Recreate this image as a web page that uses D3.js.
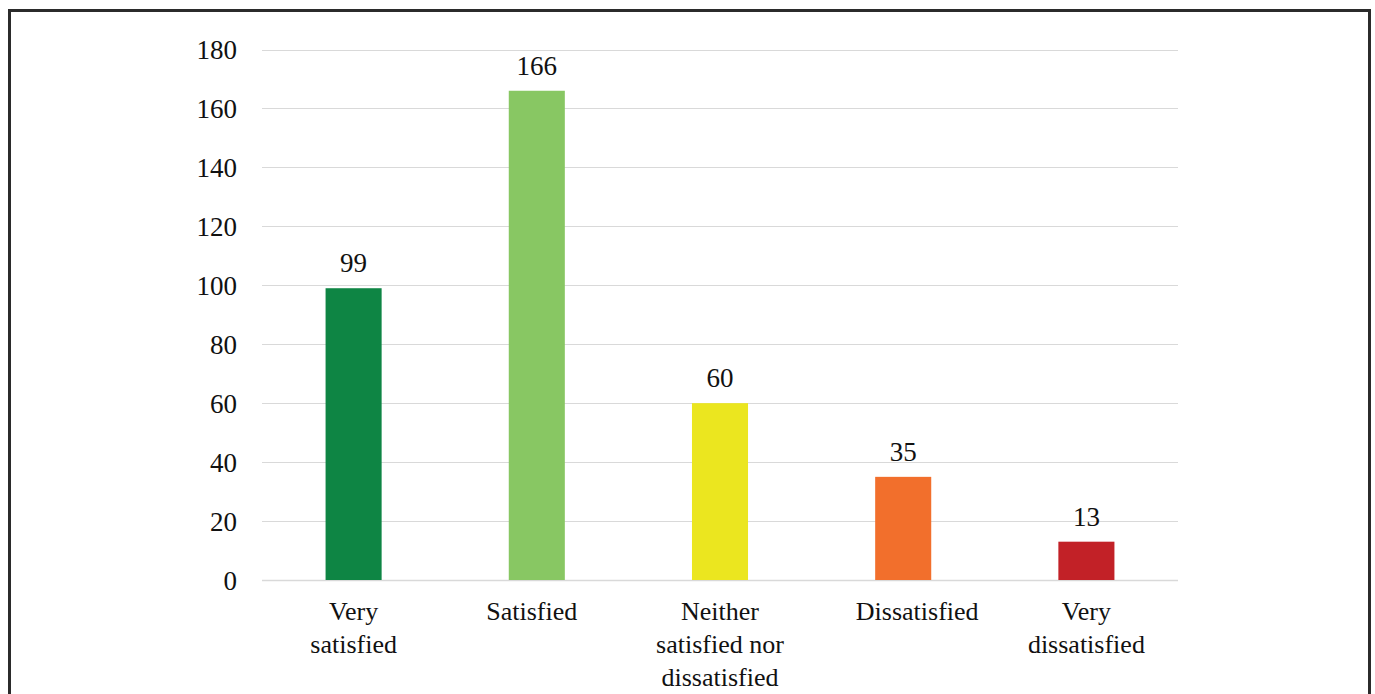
<!DOCTYPE html>
<html>
<head>
<meta charset="utf-8">
<script src="https://cdn.jsdelivr.net/npm/d3@7"></script>
<style>
  html, body { margin: 0; padding: 0; background: #fff; }
  svg { display: block; }
  text { font-family: "Liberation Serif", "Times New Roman", serif; fill: #111; }
</style>
</head>
<body>
<svg id="chart" width="1375" height="694"></svg>
<script>
// Survey responses: satisfaction level and number of respondents
const categories = ["Very satisfied", "Satisfied", "Neither satisfied nor dissatisfied", "Dissatisfied", "Very dissatisfied"];
const categoryLines = [["Very", "satisfied"], ["Satisfied"], ["Neither", "satisfied nor", "dissatisfied"], ["Dissatisfied"], ["Very", "dissatisfied"]];
const counts = [99, 166, 60, 35, 13];
const barColors = ["#0e8544", "#88c763", "#ebe61f", "#f26f2c", "#c22127"];
const yTicks = [0, 20, 40, 60, 80, 100, 120, 140, 160, 180];

const svg = d3.select("#chart");
const W = 1375, H = 694;

// Frame around the chart (open at the bottom edge)
svg.append("path")
  .attr("d", `M9.5,${H} V10.5 H1369.5 V${H}`)
  .attr("fill", "none")
  .attr("stroke", "#2b2b2b")
  .attr("stroke-width", 3);

const plot = { left: 262, right: 1178, top: 49.5, bottom: 580 };

const x = d3.scaleBand()
  .domain(categories)
  .range([plot.left, plot.right])
  .paddingInner(0.694)
  .paddingOuter(0.347);

const y = d3.scaleLinear()
  .domain([0, 180])
  .range([plot.bottom, plot.top]);

// Horizontal gridlines
svg.append("g")
  .selectAll("line")
  .data(yTicks)
  .join("line")
  .attr("x1", plot.left)
  .attr("x2", plot.right)
  .attr("y1", d => Math.round(y(d)) + 0.5)
  .attr("y2", d => Math.round(y(d)) + 0.5)
  .attr("stroke", "#d9d9d9")
  .attr("stroke-width", d => d === 0 ? 1.5 : 1);

// Y-axis tick labels
svg.append("g")
  .selectAll("text")
  .data(yTicks)
  .join("text")
  .attr("x", 237)
  .attr("y", d => y(d))
  .attr("dy", "0.36em")
  .attr("text-anchor", "end")
  .attr("font-size", 27)
  .text(d => d);

// Bars
svg.append("g")
  .selectAll("rect")
  .data(counts)
  .join("rect")
  .attr("x", (d, i) => x(categories[i]))
  .attr("width", x.bandwidth())
  .attr("y", d => y(d))
  .attr("height", d => y(0) - y(d))
  .attr("fill", (d, i) => barColors[i]);

// Value labels above bars
svg.append("g")
  .selectAll("text")
  .data(counts)
  .join("text")
  .attr("x", (d, i) => x(categories[i]) + x.bandwidth() / 2)
  .attr("y", d => y(d) - 16)
  .attr("text-anchor", "middle")
  .attr("font-size", 27)
  .text(d => d);

// Category labels, wrapped; single-line labels sit slightly off-centre
const labelNudge = [0, -5, 0, 14, 0];
const catG = svg.append("g")
  .selectAll("text")
  .data(categories)
  .join("text")
  .attr("text-anchor", "middle")
  .attr("font-size", 26)
  .attr("transform", (d, i) => `translate(${x(d) + x.bandwidth() / 2 + labelNudge[i]},620)`);

catG.selectAll("tspan")
  .data((d, i) => categoryLines[i])
  .join("tspan")
  .attr("x", 0)
  .attr("y", (d, j) => j * 33)
  .text(d => d);
</script>
</body>
</html>
